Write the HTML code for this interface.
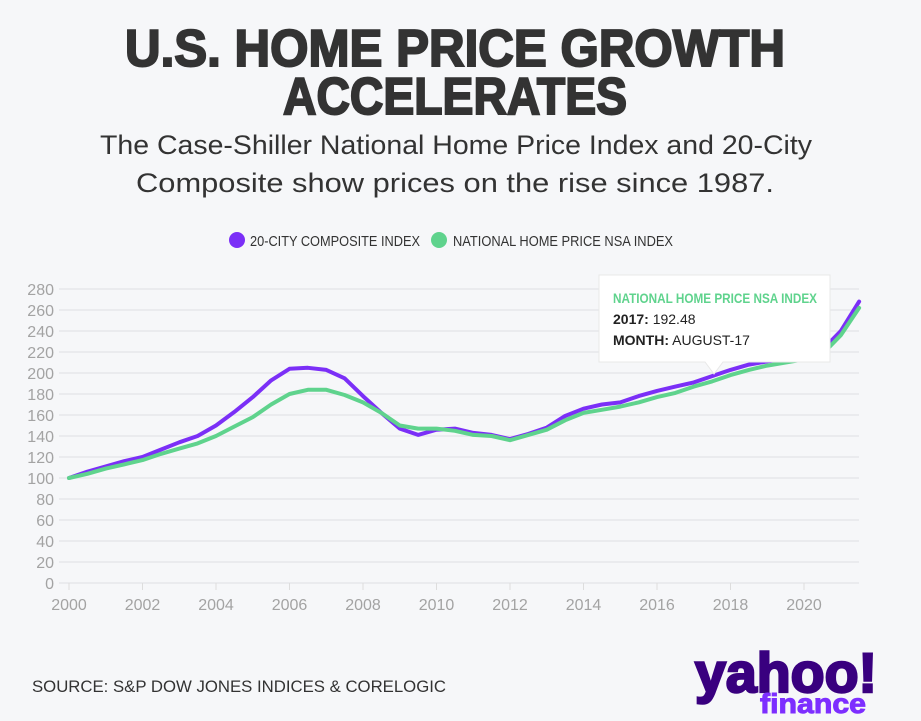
<!DOCTYPE html>
<html><head><meta charset="utf-8"><style>
html,body{margin:0;padding:0;background:#f6f7f9;}
svg{display:block;font-family:"Liberation Sans",sans-serif;}
</style></head><body>
<svg id="c" width="921" height="721" viewBox="0 0 921 721">
<rect x="0" y="0" width="921" height="721" fill="#f6f7f9"/>
<text x="455" y="66" text-anchor="middle" font-size="52" font-weight="bold" fill="#333" stroke="#333" stroke-width="2" textLength="660" lengthAdjust="spacingAndGlyphs">U.S. HOME PRICE GROWTH</text>
<text x="455" y="114" text-anchor="middle" font-size="52" font-weight="bold" fill="#333" stroke="#333" stroke-width="2" textLength="344" lengthAdjust="spacingAndGlyphs">ACCELERATES</text>
<text x="456" y="154" text-anchor="middle" font-size="27" fill="#333" textLength="712" lengthAdjust="spacingAndGlyphs">The Case-Shiller National Home Price Index and 20-City</text>
<text x="455" y="192" text-anchor="middle" font-size="27" fill="#333" textLength="638" lengthAdjust="spacingAndGlyphs">Composite show prices on the rise since 1987.</text>
<g>
<g><circle cx="237" cy="240" r="8" fill="#7b2ff7"/><text x="250" y="246" font-size="15" fill="#333" textLength="170" lengthAdjust="spacingAndGlyphs">20-CITY COMPOSITE INDEX</text></g>
<g><circle cx="439" cy="240" r="8" fill="#5fd38d"/><text x="453" y="246" font-size="15" fill="#333" textLength="220" lengthAdjust="spacingAndGlyphs">NATIONAL HOME PRICE NSA INDEX</text></g>
</g>
<g id="grid"></g><g id="lines"></g>
<g>
<path d="M599,275 H830 V362 H723 L714,374 L705,362 H599 Z" fill="#fff" stroke="#e8e8e8"/>
<text x="613" y="303" font-size="14" font-weight="bold" fill="#5fd38d" textLength="204" lengthAdjust="spacingAndGlyphs">NATIONAL HOME PRICE NSA INDEX</text>
<text x="613" y="324" font-size="14" fill="#222"><tspan font-weight="bold">2017:</tspan> 192.48</text>
<text x="613" y="345" font-size="14" fill="#222"><tspan font-weight="bold">MONTH:</tspan> AUGUST-17</text>
</g>
<text x="32" y="692" font-size="17" fill="#333" textLength="414" lengthAdjust="spacingAndGlyphs">SOURCE: S&amp;P DOW JONES INDICES &amp; CORELOGIC</text>
<g>
<text x="695" y="692" font-size="56" font-weight="bold" fill="#39007f" stroke="#39007f" stroke-width="2.5" textLength="182" lengthAdjust="spacingAndGlyphs">yahoo!</text>
<text x="760" y="713" font-size="28" font-weight="bold" fill="#7d2eff" stroke="#7d2eff" stroke-width="1" textLength="106" lengthAdjust="spacingAndGlyphs">finance</text>
</g>
</svg>
<script>
const years=[2000,2000.5,2001,2001.5,2002,2002.5,2003,2003.5,2004,2004.5,2005,2005.5,2006,2006.5,2007,2007.5,2008,2008.5,2009,2009.5,2010,2010.5,2011,2011.5,2012,2012.5,2013,2013.5,2014,2014.5,2015,2015.5,2016,2016.5,2017,2017.5,2018,2018.5,2019,2019.5,2020,2020.5,2021,2021.5];
const cityValues=[100,106,111,116,120,127,134,140,150,163,177,193,204,205,203,195,178,162,147,141,146,147,143,141,137,142,148,159,166,170,172,178,183,187,191,197,203,208,211,213,216,222,240,268];
const nationalValues=[100,104,109,113,117,123,128,133,140,149,158,170,180,184,184,179,172,162,150,147,147,145,141,140,136,141,146,155,162,165,168,172,177,181,187,192,198,203,207,210,213,218,236,262];
const yTicks=[0,20,40,60,80,100,120,140,160,180,200,220,240,260,280];
const xTicks=[2000,2002,2004,2006,2008,2010,2012,2014,2016,2018,2020];
const X=v=>69+(v-2000)*36.75, Y=v=>583-v*1.05;
const NS="http://www.w3.org/2000/svg";
const g=document.getElementById('grid'), L=document.getElementById('lines');
function mk(tag,attrs,parent){const e=document.createElementNS(NS,tag);for(const k in attrs)e.setAttribute(k,attrs[k]);parent.appendChild(e);return e;}
yTicks.forEach(t=>{
 const ln=mk('line',{x1:59,x2:859,y1:Y(t),y2:Y(t),stroke:'#e6e7ea','stroke-width':1.5},g);
 
 
 const tx=mk('text',{x:54,y:Y(t)+6,'text-anchor':'end','font-size':16,fill:'#a3a3a3'},g);
 tx.textContent=t;
 
 
});
xTicks.forEach(t=>{
 const tk=mk('line',{x1:X(t),x2:X(t),y1:583,y2:590,stroke:'#ddd'},g);
 
 
 const tx=mk('text',{x:X(t),y:610,'text-anchor':'middle','font-size':16,fill:'#a3a3a3'},g);
 tx.textContent=t;
 
 
});
function line(vals,color,name){
 const d=vals.map((v,i)=>(i?'L':'M')+X(years[i]).toFixed(1)+','+Y(v).toFixed(1)).join(' ');
 const p=mk('path',{d:d,fill:'none',stroke:color,'stroke-width':4,'stroke-linejoin':'round','stroke-linecap':'round'},L);
 
 
}
line(cityValues,'#7b2ff7','line-20-city-composite');
line(nationalValues,'#5fd38d','line-national-home-price');
</script>
</body></html>
